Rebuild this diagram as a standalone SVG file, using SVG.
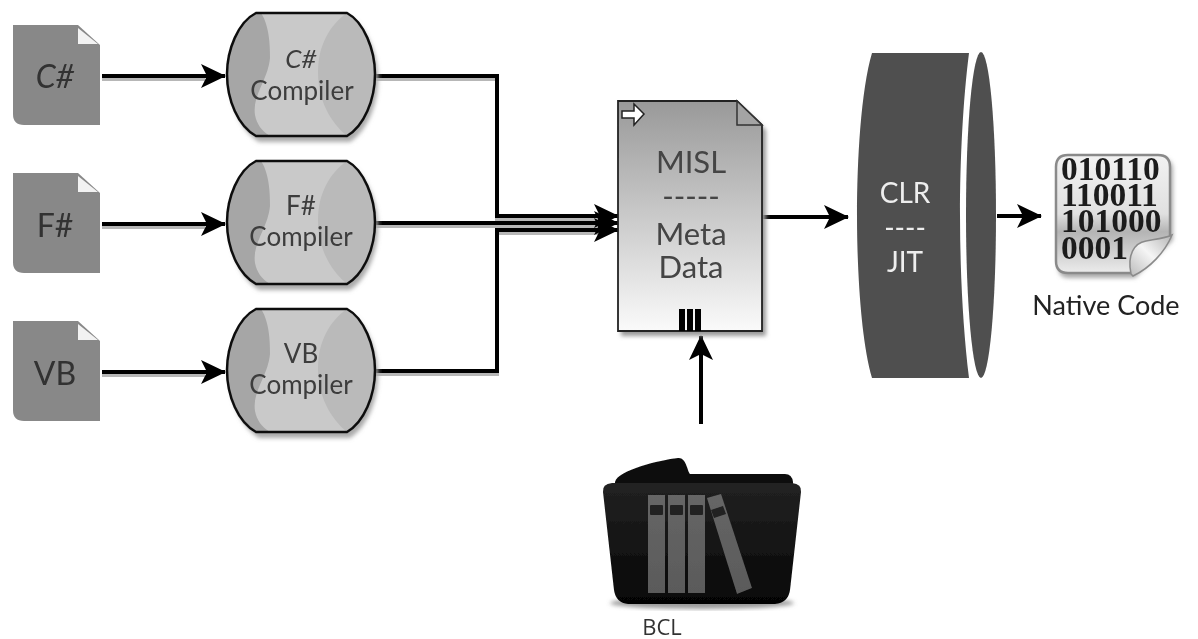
<svg xmlns="http://www.w3.org/2000/svg" xmlns:xlink="http://www.w3.org/1999/xlink" width="1198" height="639" viewBox="0 0 1198 639">
<style>
text{font-family:"Lato","Noto Sans",sans-serif;text-anchor:middle}
.docl{font-size:32px;fill:#303030}
.cmp{font-size:26px;fill:#3c3c3c}
.mid{font-size:31px;fill:#444}
.clr{font-size:28px;fill:#eee}
.bin{font-family:"Liberation Serif",serif;font-size:33.5px;font-weight:bold;fill:#1c1c1c;text-anchor:start}
.wire{fill:none;stroke:#000;stroke-width:4}
.wireS{fill:none;stroke:#999;stroke-width:4;opacity:.7}
</style>
<defs>
<filter id="sh" x="-10%" y="-10%" width="125%" height="125%"><feGaussianBlur stdDeviation="2"/></filter>
<filter id="soft" filterUnits="userSpaceOnUse" x="0" y="0" width="1198" height="639"><feGaussianBlur stdDeviation="0.55"/></filter>
<marker id="ah" viewBox="0 0 26 26" refX="24" refY="13" markerWidth="26" markerHeight="26" markerUnits="userSpaceOnUse" orient="auto"><path d="M0,1 L25,13 L0,25 L6,13 Z" fill="#000"/></marker>
<linearGradient id="mg" x1="0" y1="0" x2="0" y2="1"><stop offset="0" stop-color="#999"/><stop offset="1" stop-color="#fafafa"/></linearGradient>
<linearGradient id="fg" x1="0" y1="0" x2="0" y2="1"><stop offset="0" stop-color="#222"/><stop offset=".45" stop-color="#161616"/><stop offset="1" stop-color="#050505"/></linearGradient>
<linearGradient id="bk" x1="0" y1="0" x2="0" y2="1"><stop offset="0" stop-color="#666"/><stop offset="1" stop-color="#5a5a5a"/></linearGradient>
<linearGradient id="pg" x1="0" y1="0" x2="0" y2="1"><stop offset="0" stop-color="#f2f2f2"/><stop offset=".5" stop-color="#e0e0e0"/><stop offset=".65" stop-color="#b4b4b4"/><stop offset="1" stop-color="#ececec"/></linearGradient>
<linearGradient id="cg" x1="0" y1="1" x2="1" y2="0"><stop offset="0" stop-color="#bbb"/><stop offset=".5" stop-color="#f5f5f5"/><stop offset="1" stop-color="#b5b5b5"/></linearGradient>
<g id="doc">
<path d="M13,25 H78 L100,45 V125 H24 Q13,125 13,114 Z" fill="#888"/>
<path d="M78,28 L98,44 H78 Z" fill="#f2f2f2"/>
</g>
<g id="cyl">
<path d="M256,15 H347 C364,24 375,52 375,76 C375,102 364,128 347,139 H256 C238,128 227,102 227,76 C227,52 238,24 256,15 Z" fill="#aaa" filter="url(#sh)" transform="translate(3,3)"/>
<path d="M256,13 H347 C364,22 375,50 375,74 C375,100 364,126 347,136 H256 C238,126 227,100 227,74 C227,50 238,22 256,13 Z" fill="#c9c9c9"/>
<path d="M256,13 H261 C270,26 270,50 270,58 C268,80 252,95 255,115 C257,125 262,131 270,136 H256 C238,126 227,100 227,74 C227,50 238,22 256,13 Z" fill="#a6a6a6"/>
<path d="M347,13 C330,25 318,45 318,72 C318,100 330,122 347,136 C364,126 375,100 375,74 C375,50 364,22 347,13 Z" fill="#bababa"/>
<path d="M256,13 H347 C364,22 375,50 375,74 C375,100 364,126 347,136 H256 C238,126 227,100 227,74 C227,50 238,22 256,13 Z" fill="none" stroke="#111" stroke-width="2.5"/>
</g>
</defs>
<rect width="1198" height="639" fill="#fff"/>
<g filter="url(#soft)">
<g id="connectors">
<g class="shadows" transform="translate(0,3)">
<path class="wireS" d="M102,76 H205"/><path class="wireS" d="M102,224 H205"/><path class="wireS" d="M102,372 H205"/>
<path class="wireS" d="M375,76 H497 V216 H600"/><path class="wireS" d="M375,223 H600"/><path class="wireS" d="M375,371 H497 V230 H600"/>
</g>
<path class="wire" d="M102,76 H225" marker-end="url(#ah)"/>
<path class="wire" d="M102,224 H225" marker-end="url(#ah)"/>
<path class="wire" d="M102,372 H225" marker-end="url(#ah)"/>
<path class="wire" d="M375,76 H497 V216 H618" marker-end="url(#ah)"/>
<path class="wire" d="M375,223 H618" marker-end="url(#ah)"/>
<path class="wire" d="M375,371 H497 V230 H618" marker-end="url(#ah)"/>
<path class="wire" d="M762,217 H848" marker-end="url(#ah)"/>
<path class="wire" d="M997,216 H1041" marker-end="url(#ah)"/>
<path class="wire" d="M701,424 V336" marker-end="url(#ah)"/>
</g>

<g id="src-csharp"><use xlink:href="#doc" href="#doc"/><text class="docl" x="55" y="88" font-style="italic">C#</text></g>
<g id="src-fsharp"><use xlink:href="#doc" href="#doc" y="148"/><text class="docl" x="55" y="237">F#</text></g>
<g id="src-vb"><use xlink:href="#doc" href="#doc" y="296"/><text class="docl" x="55" y="385">VB</text></g>

<g id="comp-csharp"><use xlink:href="#cyl" href="#cyl"/><text class="cmp" x="301" y="68" font-style="italic">C#</text><text class="cmp" x="302" y="100">Compiler</text></g>
<g id="comp-fsharp"><use xlink:href="#cyl" href="#cyl" y="148"/><text class="cmp" x="301" y="215">F#</text><text class="cmp" x="301" y="246">Compiler</text></g>
<g id="comp-vb"><use xlink:href="#cyl" href="#cyl" y="296"/><text class="cmp" x="301" y="363">VB</text><text class="cmp" x="301" y="394">Compiler</text></g>

<g id="misl">
<path d="M619,104 H738 L764,128 V334 H619 Z" fill="#999" filter="url(#sh)" transform="translate(2,2)"/>
<path d="M618,101 H737 L762,125 V331 H618 Z" fill="url(#mg)" stroke="#222" stroke-width="1.8"/>
<path d="M737,101 V125 H762 Z" fill="#a4a4a4" stroke="#333" stroke-width="1.5"/>
<path d="M622,111 H634 V104 L644,114 L634,125 V118 H622 Z" fill="#fff" stroke="#222" stroke-width="1.5"/>
<rect x="679" y="309" width="6" height="22" fill="#000"/>
<rect x="687" y="309" width="6" height="22" fill="#000"/>
<rect x="695" y="309" width="6" height="22" fill="#000"/>
<text class="mid" x="691" y="173">MISL</text>
<text class="mid" x="691" y="207">-----</text>
<text class="mid" x="691" y="245">Meta</text>
<text class="mid" x="691" y="278">Data</text>
</g>

<g id="clr">
<path d="M872,53 H969 C963,100 960,160 960,215 C960,270 963,330 969,378 H872 C861,340 857,270 857,215 C857,160 861,90 872,53 Z" fill="#4f4f4f"/>
<ellipse cx="981" cy="215" rx="15" ry="163" fill="#4f4f4f"/>
<text class="clr" x="905" y="203">CLR</text>
<text class="clr" x="905" y="238">----</text>
<text class="clr" x="905" y="272">JIT</text>
</g>

<g id="native">
<path d="M1069,158 H1160 Q1173,158 1173,170 V240 L1135,278 H1069 Q1058,278 1058,266 V170 Q1058,158 1069,158 Z" fill="#aaa" filter="url(#sh)"/>
<path d="M1068,155 H1158 Q1170,155 1170,167 V238 L1132,273 H1068 Q1056,273 1056,261 V167 Q1056,155 1068,155 Z" fill="url(#pg)" stroke="#8a8a8a" stroke-width="2.5"/>
<text class="bin"><tspan x="1061" y="180">010110</tspan><tspan x="1061" y="206">110011</tspan><tspan x="1061" y="232">101000</tspan><tspan x="1061" y="259">0001</tspan></text>
<path d="M1131,274 C1127,255 1134,243 1146,241 C1157,239 1166,238 1172,235 C1165,252 1150,268 1133,276 Z" fill="url(#cg)" stroke="#8a8a8a" stroke-width="1.5"/>
<text x="1106" y="315" font-size="27" fill="#222">Native Code</text>
</g>

<g id="bcl">
<ellipse cx="702" cy="603" rx="92" ry="6" fill="#999" filter="url(#sh)"/>
<path d="M615,482 C618,470 660,460 678,458 C686,457 687,470 690,474 H785 Q792,474 793,482 V495 H615 Z" fill="#111"/>
<path d="M603,492 Q602,484 612,483 H792 Q802,484 801,492 L790,590 Q788,603 775,604 H628 Q616,603 614,590 Z" fill="url(#fg)"/>
<rect x="648" y="495" width="17" height="98" fill="url(#bk)"/>
<rect x="668" y="495" width="17" height="98" fill="url(#bk)"/>
<rect x="688" y="495" width="17" height="98" fill="url(#bk)"/>
<path d="M707,498 L721,494 L752,588 L737,594 Z" fill="url(#bk)"/>
<rect x="650" y="505" width="13" height="10" rx="1" fill="#222"/>
<rect x="670" y="505" width="13" height="10" rx="1" fill="#222"/>
<rect x="690" y="505" width="13" height="10" rx="1" fill="#222"/>
<path d="M711,510 L723,506 L726,514 L714,518 Z" fill="#222"/>
<text x="662" y="635" font-size="22" fill="#333" style="font-family:'Open Sans',sans-serif">BCL</text>
</g>
</g>
</svg>
